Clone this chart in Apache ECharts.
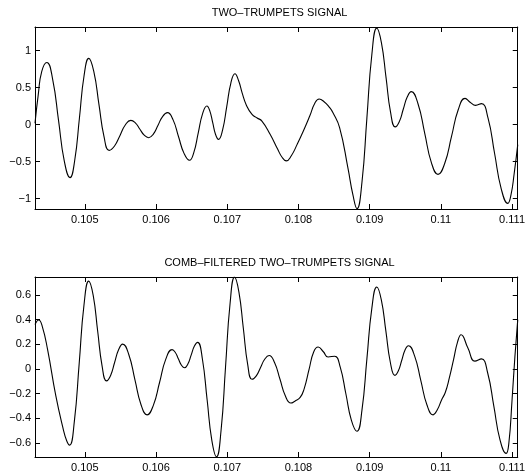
<!DOCTYPE html>
<html>
<head>
<meta charset="utf-8">
<script src="https://cdn.jsdelivr.net/npm/echarts@6/dist/echarts.min.js"></script>
<style>html,body{margin:0;padding:0;background:#fff}#c{width:528px;height:473px}</style>
</head>
<body>
<div id="c"></div>
<script>
// ---- data ----
const titles = ['TWO\u2013TRUMPETS SIGNAL', 'COMB\u2013FILTERED TWO\u2013TRUMPETS SIGNAL'];
const xTickValues = [0.105, 0.106, 0.107, 0.108, 0.109, 0.110, 0.111];
const xTickLabels = ['0.105', '0.106', '0.107', '0.108', '0.109', '0.11', '0.111'];
const topYTicks = [-1, -0.5, 0, 0.5, 1];
const topYLabels = ['\u22121', '\u22120.5', '0', '0.5', '1'];
const botYTicks = [-0.6, -0.4, -0.2, 0, 0.2, 0.4, 0.6];
const botYLabels = ['\u22120.6', '\u22120.4', '\u22120.2', '0', '0.2', '0.4', '0.6'];

const topX = [
  0.104300, 0.104345, 0.104395, 0.104467,
  0.104548, 0.104630, 0.104711, 0.104792,
  0.104858, 0.104924, 0.104989, 0.105055,
  0.105127, 0.105198, 0.105270, 0.105341,
  0.105417, 0.105494, 0.105570, 0.105646,
  0.105709, 0.105771, 0.105834, 0.105896,
  0.105962, 0.106028, 0.106094, 0.106160,
  0.106238, 0.106315, 0.106393, 0.106470,
  0.106531, 0.106592, 0.106653, 0.106714,
  0.106755, 0.106796, 0.106836, 0.106877,
  0.106935, 0.106993, 0.107050, 0.107108,
  0.107161, 0.107209, 0.107270, 0.107348, 0.107420, 0.107487, 0.107602, 0.107709, 0.107770, 0.107829,
  0.107900, 0.107980, 0.108069, 0.108160, 0.108230, 0.108291,
  0.108360, 0.108430, 0.108485, 0.108578, 0.108694, 0.108765, 0.108822,
  0.108892, 0.108961, 0.109031, 0.109100,
  0.109165, 0.109230, 0.109294, 0.109359,
  0.109416, 0.109472, 0.109529, 0.109585,
  0.109679, 0.109773, 0.109866, 0.109960,
  0.110055, 0.110150, 0.110245, 0.110340,
  0.110415, 0.110487, 0.110570,
  0.110663, 0.110755, 0.110848, 0.110940,
  0.110985, 0.111030, 0.111080];
const topY = [
  0.02, 0.40, 0.72, 0.84,
  0.613, 0.062, -0.489, -0.716,
  -0.481, 0.09, 0.661, 0.896,
  0.715, 0.275, -0.166, -0.347,
  -0.288, -0.145, -0.001, 0.058,
  0.024, -0.059, -0.142, -0.176,
  -0.127, -0.007, 0.113, 0.162,
  0.068, -0.16, -0.388, -0.482,
  -0.375, -0.115, 0.145, 0.252,
  0.186, 0.027, -0.133, -0.199,
  -0.069, 0.245, 0.559, 0.689,
  0.59, 0.43, 0.26, 0.139, 0.09, 0.049, -0.13, -0.334, -0.44, -0.49,
  -0.42, -0.27, -0.086, 0.12, 0.29, 0.346,
  0.31, 0.24, 0.162, -0.04, -0.58, -0.95, -1.135,
  -0.779, 0.085, 0.949, 1.305,
  1.11, 0.64, 0.165, -0.03,
  0.04, 0.208, 0.376, 0.446,
  0.283, -0.113, -0.509, -0.672,
  -0.522, -0.159, 0.205, 0.355,
  0.30, 0.261, 0.284,
  0.087, -0.39, -0.867, -1.064,
  -0.95, -0.66, -0.27];

const botX = [
  0.104300, 0.104352, 0.104400, 0.104477, 0.104592, 0.104690, 0.104745, 0.104786,
  0.104853, 0.104921, 0.104988, 0.105055,
  0.105118, 0.105180, 0.105243, 0.105305,
  0.105362, 0.105418, 0.105475, 0.105531,
  0.105617, 0.105703, 0.105788, 0.105874,
  0.105962, 0.106050, 0.106137, 0.106225,
  0.106269, 0.106313, 0.106357, 0.106401,
  0.106447, 0.106493, 0.106539, 0.106585,
  0.106651, 0.106717, 0.106783, 0.106849,
  0.106913, 0.106976, 0.107040, 0.107103,
  0.107164, 0.107226, 0.107287, 0.107348,
  0.107408, 0.107468, 0.107528, 0.107588,
  0.107664, 0.107741, 0.107817, 0.107893,
  0.107950, 0.108024, 0.108080, 0.108150, 0.108215, 0.108277,
  0.108350, 0.108416, 0.108509,
  0.108587, 0.108666, 0.108744, 0.108822,
  0.108892, 0.108961, 0.109031, 0.109100,
  0.109164, 0.109228, 0.109291, 0.109355,
  0.109402, 0.109450, 0.109497, 0.109544,
  0.109631, 0.109718, 0.109804, 0.109891,
  0.109950, 0.110010, 0.110062, 0.110120, 0.110180, 0.110235, 0.110284,
  0.110380, 0.110478, 0.110570,
  0.110657, 0.110744, 0.110830, 0.110917,
  0.110955, 0.111000, 0.111040, 0.111080];
const botY = [
  0.36, 0.397, 0.35, 0.157, -0.216, -0.47, -0.58, -0.616,
  -0.422, 0.048, 0.518, 0.712,
  0.594, 0.308, 0.022, -0.096,
  -0.052, 0.053, 0.158, 0.202,
  0.118, -0.085, -0.287, -0.371,
  -0.294, -0.107, 0.080, 0.157,
  0.136, 0.084, 0.031, 0.01,
  0.04, 0.113, 0.186, 0.216,
  0.081, -0.247, -0.575, -0.71,
  -0.498, 0.017, 0.532, 0.744,
  0.623, 0.33, 0.038, -0.083,
  -0.055, 0.013, 0.081, 0.109,
  0.053, -0.083, -0.219, -0.275,
  -0.26, -0.23, -0.16, 0.0, 0.14, 0.178,
  0.14, 0.098, 0.104,
  0.015, -0.2, -0.415, -0.504,
  -0.333, 0.08, 0.493, 0.664,
  0.56, 0.307, 0.053, -0.051,
  -0.016, 0.069, 0.154, 0.189,
  0.107, -0.091, -0.289, -0.371,
  -0.33, -0.25, -0.19, -0.07, 0.08, 0.22, 0.277,
  0.17, 0.064, 0.082,
  -0.03, -0.3, -0.571, -0.683,
  -0.60, -0.25, 0.10, 0.40];

const xMin = 0.1043, xMax = 0.11108;
const topRange = [-1.14, 1.32];
const botRange = [-0.712, 0.745];

// ---- chart ----
const FONT = 'Liberation Sans, Arial, Helvetica, sans-serif';
const pairs = (xs, ys) => xs.map((x, i) => [x, ys[i]]);
const lookup = (vals, labels) => (v) => {
  for (let i = 0; i < vals.length; i++) if (Math.abs(vals[i] - v) < 1e-9) return labels[i];
  return '';
};
const lineStyle = { color: '#000', width: 1 };

function xAxis(gridIndex, position, withLabels) {
  return {
    type: 'value', gridIndex, position, min: xMin, max: xMax,
    axisLine: { show: true, onZero: false, lineStyle },
    axisTick: { show: true, inside: true, length: 5, customValues: xTickValues, lineStyle },
    axisLabel: withLabels ? {
      show: true, customValues: xTickValues, formatter: lookup(xTickValues, xTickLabels),
      fontSize: 11, fontFamily: FONT, color: '#000', margin: 5
    } : { show: false },
    splitLine: { show: false }
  };
}
function yAxis(gridIndex, position, range, ticks, labels, withLabels) {
  return {
    type: 'value', gridIndex, position, min: range[0], max: range[1],
    axisLine: { show: true, onZero: false, lineStyle },
    axisTick: { show: true, inside: true, length: 5, customValues: ticks, lineStyle },
    axisLabel: withLabels ? {
      show: true, customValues: ticks, formatter: lookup(ticks, labels),
      fontSize: 11, fontFamily: FONT, color: '#000', margin: 4
    } : { show: false },
    splitLine: { show: false }
  };
}

const chart = echarts.init(document.getElementById('c'), null, { renderer: 'canvas' });
chart.setOption({
  animation: false,
  backgroundColor: '#fff',
  title: [
    { text: titles[0], left: 279.5, top: 7, textAlign: 'center', padding: 0,
      textStyle: { fontSize: 11, fontWeight: 'normal', fontFamily: FONT, color: '#000' } },
    { text: titles[1], left: 279.5, top: 257, textAlign: 'center', padding: 0,
      textStyle: { fontSize: 11, fontWeight: 'normal', fontFamily: FONT, color: '#000' } }
  ],
  grid: [
    { left: 35, top: 27, right: 4, height: 182, containLabel: false },
    { left: 35, top: 277, right: 4, height: 181, containLabel: false }
  ],
  xAxis: [
    xAxis(0, 'bottom', true), xAxis(0, 'top', false),
    xAxis(1, 'bottom', true), xAxis(1, 'top', false)
  ],
  yAxis: [
    yAxis(0, 'left', topRange, topYTicks, topYLabels, true),
    yAxis(0, 'right', topRange, topYTicks, topYLabels, false),
    yAxis(1, 'left', botRange, botYTicks, botYLabels, true),
    yAxis(1, 'right', botRange, botYTicks, botYLabels, false)
  ],
  series: [
    { type: 'line', xAxisIndex: 0, yAxisIndex: 0, data: pairs(topX, topY), showSymbol: false,
      smooth: 0.5, lineStyle: { color: '#000', width: 1.1 }, silent: true, clip: true },
    { type: 'line', xAxisIndex: 2, yAxisIndex: 2, data: pairs(botX, botY), showSymbol: false,
      smooth: 0.5, lineStyle: { color: '#000', width: 1.1 }, silent: true, clip: true }
  ]
});
</script>
</body>
</html>
